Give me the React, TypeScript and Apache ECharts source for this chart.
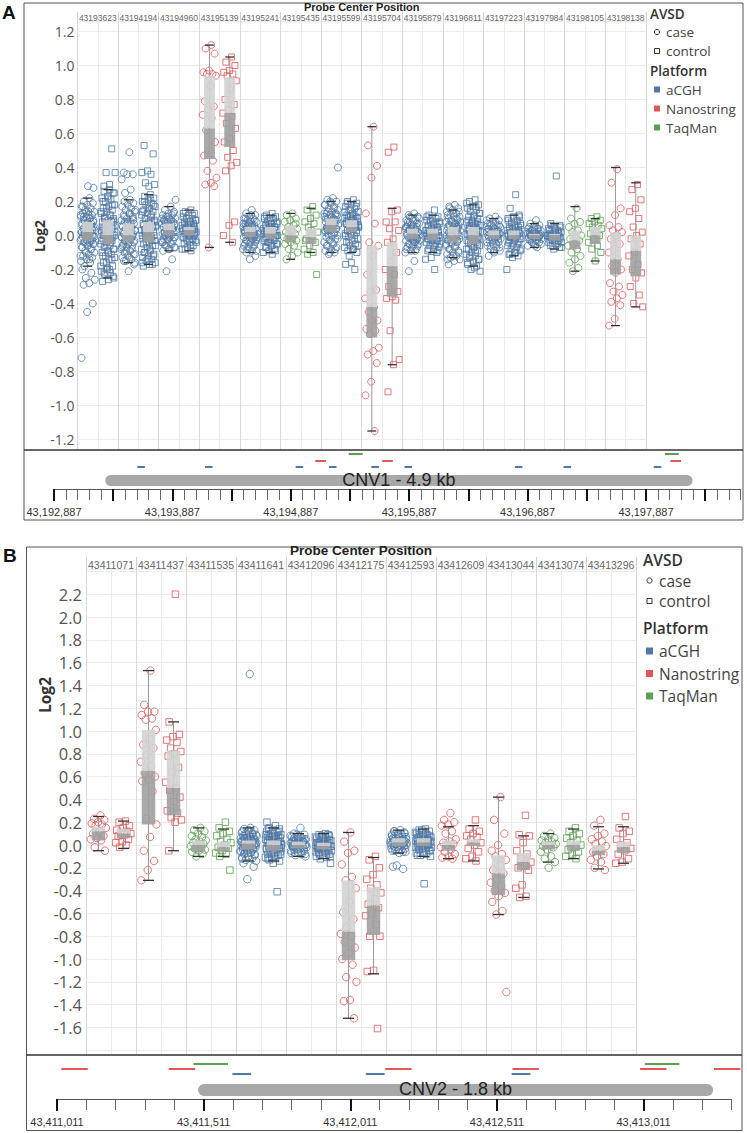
import React, { useEffect, useRef } from "react";
import * as echarts from "echarts";

// ---------------- shared ----------------
const PLATFORMS = ["aCGH", "Nanostring", "TaqMan"];
const PLATFORM_COLORS = ["#4E79A7", "#E15759", "#59A14F"];
const PROBE_LENGTH_BP = [64, 90, 118];
const GROUPS = ["case", "control"];

// ---------------- Panel A (CNV1) ----------------
const probesA = [43193623, 43194194, 43194960, 43195139, 43195241, 43195435, 43195599, 43195704, 43195879, 43196811, 43197223, 43197984, 43198105, 43198138];
const platformA = ["aCGH", "aCGH", "aCGH", "Nanostring", "aCGH", "TaqMan", "aCGH", "Nanostring", "aCGH", "aCGH", "aCGH", "aCGH", "TaqMan", "Nanostring"];
// Log2 x 100 : [lower whisker, q1, median, q3, upper whisker]
const boxCaseA = [
  [-18, -3, 2, 8, 22], [-16, -4, 0, 7, 21], [-9, 0, 3, 7, 17], [-7, 45, 63, 94, 112], [-10, -1, 2, 5, 13], [-14, -4, 0, 6, 13], [-10, 2, 6, 10, 20],
  [-115, -60, -42, -6, 64], [-10, -2, 1, 4, 12], [-13, -4, 0, 5, 15], [-10, -2, 0, 3, 10], [-7, -2, 0, 1, 7], [-21, -8, -3, 3, 17], [-53, -23, -14, 2, 40],
];
const boxControlA = [
  [-25, -5, 0, 9, 27], [-17, -4, 2, 8, 24], [-9, 0, 3, 5, 15], [-4, 52, 72, 93, 105], [-10, -2, 1, 5, 12], [-10, -5, -1, 4, 16], [-10, 2, 5, 9, 20],
  [-76, -36, -18, -4, 16], [-10, -3, 1, 4, 12], [-18, -5, 0, 5, 18], [-12, -2, 0, 3, 12], [-8, -3, 0, 1, 7], [-15, -5, 0, 5, 10], [-42, -24, -9, 0, 31],
];
// individual samples, Log2 x 100
const pointsCaseA = [
  [22, 20, 19, 18, 17, 16, 15, 14, 14, 13, 12, 11, 11, 10, 9, 9, 8, 7, 7, 6, 5, 5, 4, 3, 3, 2, 2, 1, 0, 0, -1, -2, -2, -3, -4, -4, -5, -6, -7, -8, -9, -10, -11, -12, -13, -14, -15, -16, -18, 28, 29, -20, -22, -25, -26, -28, -29, -40, -45, -72, 6, 1, -1, 12, 17, -3,
    14, 12, 10, 9, 8, 7, 6, 5, 4, 3, 2, 1, 0, -1, -2, -3, -4, -5, -6, -7, -8, -10, -12, -14, 11, 5, -3, 2],
  [21, 20, 19, 18, 17, 16, 15, 14, 13, 12, 11, 10, 9, 8, 8, 7, 6, 5, 5, 4, 3, 2, 1, 1, 0, -1, -2, -3, -3, -4, -5, -6, -7, -8, -9, -10, -11, -12, -13, -14, -15, -16, 49, 37, 36, 36, 33, 27, 25, -17, -21, 2, -1, 4,
    15, 13, 11, 9, 8, 6, 5, 4, 3, 2, 1, 0, 0, -1, -2, -3, -4, -5, -6, -8, -9, -11, -13, -15, 10, 7, -7, 2],
  [17, 15, 14, 13, 12, 12, 11, 10, 10, 9, 8, 8, 7, 7, 6, 6, 5, 5, 4, 4, 3, 3, 2, 2, 1, 1, 0, 0, -1, -1, -2, -3, -3, -4, -5, -6, -7, -8, -9, -14, -21, 21, 5, 2,
    13, 11, 10, 9, 8, 7, 6, 5, 4, 3, 2, 1, 0, -1, -2, -4, -5, -6, -7, -8, 9, 4, 1, -3],
  [112, 110, 107, 97, 96, 95, 95, 94, 88, 79, 76, 74, 71, 69, 62, 55, 50, 47, 44, 38, 34, 31, 30, 29, -7],
  [15, 13, 12, 11, 10, 10, 9, 8, 8, 7, 6, 6, 5, 5, 4, 4, 3, 3, 2, 2, 1, 1, 0, 0, -1, -1, -2, -3, -3, -4, -5, -6, -7, -8, -9, -10, -12, -14, 3, 1, 6, -2,
    12, 10, 9, 8, 7, 6, 5, 4, 3, 2, 1, 0, -1, -2, -3, -4, -5, -6, -7, -8, -9, 5, 2, -1],
  [13, 12, 10, 9, 8, 6, 5, 4, 3, 2, 1, 0, -1, -1, -2, -3, -4, -5, -6, -8, -10, -12, -14, 7, 3],
  [22, 21, 20, 19, 18, 17, 16, 15, 14, 13, 12, 12, 11, 10, 10, 9, 8, 8, 7, 6, 6, 5, 5, 4, 3, 3, 2, 1, 0, 0, -1, -2, -3, -4, -5, -6, -7, -8, -9, -10, -11, 40, 9, 4, 13,
    20, 18, 16, 14, 12, 11, 10, 9, 8, 7, 6, 5, 4, 3, 2, 1, 0, -2, -4, -6, -8, -10, 13, 7, 3],
  [64, 53, 41, 34, 13, 7, -4, -6, -12, -23, -32, -33, -37, -42, -45, -50, -50, -55, -56, -58, -66, -68, -70, -75, -86, -94, -115],
  [13, 12, 11, 10, 9, 9, 8, 7, 6, 6, 5, 4, 4, 3, 3, 2, 2, 1, 1, 0, 0, -1, -1, -2, -2, -3, -4, -5, -5, -6, -7, -8, -9, -10, -15, -21, 2, 0, 5, -3,
    11, 10, 9, 8, 7, 6, 5, 4, 3, 2, 1, 0, -1, -2, -3, -4, -5, -6, -7, -8, -9, 4, 1, -2],
  [18, 17, 16, 15, 14, 13, 12, 11, 11, 10, 9, 8, 8, 7, 6, 6, 5, 5, 4, 3, 3, 2, 2, 1, 0, 0, -1, -1, -2, -3, -3, -4, -5, -6, -7, -8, -9, -10, -11, -12, -13, -14, -15, -17, 4, 1, -2, 7,
    16, 14, 13, 12, 10, 9, 8, 7, 6, 5, 4, 3, 2, 1, 0, -1, -2, -3, -4, -5, -6, -8, -10, -12, -14, 5, 0],
  [11, 10, 9, 8, 7, 6, 6, 5, 4, 4, 3, 3, 2, 2, 1, 1, 0, 0, -1, -1, -2, -2, -3, -4, -5, -6, -7, -8, -9, -10, -12, 1, 0,
    9, 8, 7, 6, 5, 4, 3, 2, 1, 0, -1, -2, -3, -4, -5, -6, -7, -9, 2, 0, -1],
  [9, 7, 6, 5, 4, 4, 3, 3, 2, 2, 1, 1, 1, 0, 0, 0, -1, -1, -1, -2, -2, -3, -3, -4, -5, -6, -7, 0, 1,
    6, 5, 4, 3, 2, 1, 0, 0, -1, -2, -3, -4, -5, -6, 1, -1],
  [16, 10, 8, 7, 5, 3, 2, 0, -1, -2, -3, -5, -6, -8, -10, -12, -14, -16, -19, -21],
  [39, 31, 16, 12, 6, 5, 3, 2, 0, -2, -5, -8, -10, -14, -18, -20, -22, -28, -30, -33, -35, -37, -39, -41, -49, -53],
];
const pointsControlA = [
  [27, 26, 25, 23, 22, 21, 20, 18, 17, 16, 15, 14, 13, 12, 11, 10, 9, 8, 8, 7, 6, 5, 4, 4, 3, 2, 1, 0, 0, -1, -2, -3, -4, -5, -6, -7, -8, -9, -10, -11, -12, -13, -14, -16, -18, -20, -21, -22, -23, -25, -26, -27, 51, 37, 37, 30, 29, -24, -19, 3, -2, 10,
    25, 22, 20, 18, 16, 14, 12, 10, 8, 6, 5, 4, 3, 2, 1, 0, -1, -2, -3, -4, -6, -8, -10, -12, -14, -16, -18, -20, -22, 9, 1],
  [24, 23, 22, 21, 20, 19, 18, 17, 16, 15, 14, 13, 12, 11, 10, 9, 8, 7, 6, 5, 5, 4, 3, 2, 1, 0, -1, -2, -3, -4, -5, -6, -7, -8, -9, -10, -11, -12, -13, -14, -15, -16, -17, 53, 48, 38, 37, 36, 31, 30, 29, -18, -17, 1, 6,
    22, 20, 18, 16, 14, 12, 10, 8, 7, 6, 5, 4, 3, 2, 1, 0, -1, -2, -3, -4, -6, -8, -10, -12, -14, -16, 9, 2],
  [15, 14, 13, 12, 11, 10, 10, 9, 8, 8, 7, 6, 6, 5, 5, 4, 4, 3, 3, 2, 2, 1, 1, 0, 0, -1, -2, -2, -3, -4, -5, -6, -7, -8, -9, 4, 2, 1,
    13, 12, 10, 9, 8, 7, 6, 5, 4, 3, 2, 1, 0, -1, -2, -3, -4, -6, -8, 5, 3],
  [105, 102, 100, 97, 96, 95, 94, 91, 86, 80, 77, 74, 72, 70, 66, 63, 57, 55, 50, 46, 43, 41, 38, 8, 6, 0, -4],
  [13, 12, 11, 10, 10, 9, 8, 7, 7, 6, 5, 5, 4, 4, 3, 3, 2, 2, 1, 1, 0, 0, -1, -1, -2, -3, -3, -4, -5, -6, -7, -8, -9, -10, -11, 2, 0, 5,
    11, 10, 9, 8, 7, 6, 5, 4, 3, 2, 1, 0, -1, -2, -3, -4, -5, -6, -7, -9, 3, 1],
  [17, 15, 12, 10, 8, 7, 5, 2, 0, -2, -4, -6, -8, -10, -11, -23, 3, -3],
  [21, 20, 19, 18, 17, 16, 15, 14, 13, 12, 11, 11, 10, 9, 9, 8, 7, 7, 6, 5, 5, 4, 3, 3, 2, 1, 0, -1, -2, -3, -4, -5, -6, -7, -8, -9, -10, -16, -17, -20, -12, 6, 10,
    19, 17, 15, 14, 12, 11, 10, 9, 8, 7, 6, 5, 4, 3, 2, 1, 0, -2, -4, -6, -8, 7, 5],
  [52, 49, 15, 14, 8, 8, 4, 3, -2, -4, -10, -15, -20, -23, -30, -33, -36, -37, -38, -56, -73, -76, -92],
  [15, 12, 11, 10, 9, 8, 8, 7, 6, 5, 5, 4, 3, 3, 2, 2, 1, 1, 0, 0, -1, -1, -2, -3, -3, -4, -5, -6, -7, -8, -9, -10, -13, -14, -20, 1, 3, -2,
    11, 10, 9, 8, 7, 6, 5, 4, 3, 2, 1, 0, -1, -2, -3, -4, -5, -6, -8, -9, 2, 0],
  [21, 20, 18, 17, 16, 15, 14, 13, 12, 11, 10, 9, 8, 7, 6, 6, 5, 4, 3, 2, 2, 1, 0, -1, -2, -3, -4, -5, -6, -7, -8, -9, -10, -11, -12, -13, -14, -15, -16, -18, -20, -21, -19, 3, -1, 8,
    19, 17, 15, 13, 11, 9, 8, 7, 6, 5, 4, 3, 2, 1, 0, -1, -2, -3, -4, -5, -6, -8, -10, -12, -14, -16, -17, 4, 0],
  [24, 16, 12, 11, 10, 9, 8, 7, 6, 5, 5, 4, 3, 3, 2, 1, 1, 0, 0, -1, -2, -2, -3, -4, -5, -6, -7, -8, -9, -10, -11, -12, -13, -20, 2, -1,
    11, 10, 9, 8, 7, 6, 5, 4, 3, 2, 1, 0, -1, -2, -3, -4, -5, -6, -8, -10, -11, 2],
  [35, 7, 6, 5, 4, 3, 3, 2, 2, 1, 1, 0, 0, 0, -1, -1, -2, -2, -3, -3, -4, -5, -6, -7, -8, 0, -1,
    6, 5, 4, 3, 2, 1, 0, 0, -1, -2, -3, -4, -5, -6, -7, 1, -1],
  [11, 10, 9, 8, 7, 6, 5, 4, 2, 1, 0, -2, -4, -6, -8, -10, -15],
  [30, 27, 21, 16, 14, 10, 5, 2, 0, -2, -5, -10, -12, -17, -20, -22, -25, -30, -35, -40, -42],
];
const cnvA = { label: "CNV1 - 4.9 kb", start: 43193320, end: 43198280 };
const rulerA = { start: 43192887, end: 43198687, minorStep: 100, majorStep: 500, labelStep: 1000 };

// ---------------- Panel B (CNV2) ----------------
const probesB = [43411071, 43411437, 43411535, 43411641, 43412096, 43412175, 43412593, 43412609, 43413044, 43413074, 43413296];
const platformB = ["Nanostring", "Nanostring", "TaqMan", "aCGH", "aCGH", "Nanostring", "aCGH", "Nanostring", "Nanostring", "TaqMan", "Nanostring"];
const boxCaseB = [
  [-5, 4, 12, 16, 25], [-31, 18, 65, 101, 153], [-10, -6, 0, 4, 15], [-14, -4, 1, 4, 15], [-10, -3, 0, 3, 10], [-152, -101, -76, -31, 11],
  [-7, -1, 2, 6, 13], [-12, -5, 0, 4, 16], [-61, -44, -25, -9, 42], [-15, -4, 0, 3, 10], [-21, -9, -5, 0, 16],
];
const boxControlB = [
  [-3, 6, 10, 14, 21], [-5, 26, 50, 83, 108], [-10, -6, -2, 3, 14], [-14, -5, 0, 4, 15], [-12, -4, -1, 2, 10], [-113, -79, -53, -37, -11],
  [-10, -1, 2, 6, 14], [-14, -1, 2, 5, 17], [-46, -22, -15, -7, 8], [-12, -5, 0, 4, 14], [-16, -7, -2, 3, 16],
];
const pointsCaseB = [
  [26, 23, 22, 20, 19, 18, 17, 15, 12, 10, 8, 6, 5, 4, -2, -5],
  [153, 123, 117, 117, 114, 111, 110, 101, 93, 88, 85, 79, 73, 69, 63, 60, 57, 56, 47, 23, 18, 7, -5, -14, -22, -31],
  [15, 13, 12, 10, 8, 7, 5, 4, 3, 2, 1, 0, -1, -2, -3, -4, -5, -6, -8, -10],
  [15, 14, 13, 12, 11, 10, 10, 9, 8, 8, 7, 6, 6, 5, 5, 4, 4, 3, 3, 2, 2, 1, 1, 0, 0, -1, -1, -2, -2, -3, -4, -4, -5, -6, -7, -8, -9, -10, -11, -12, -13, -14, 150, -16, -19, -30, 3, -1, 6, 1,
    13, 12, 10, 9, 8, 7, 6, 5, 4, 3, 2, 1, 0, -1, -2, -3, -4, -5, -6, -7, -8, -10, -12, 4, 1],
  [15, 10, 9, 8, 7, 6, 5, 5, 4, 3, 3, 2, 2, 1, 1, 0, 0, -1, -1, -2, -2, -3, -4, -5, -6, -7, -8, -9, -10, 1, -1, 3,
    9, 8, 7, 6, 5, 4, 3, 2, 1, 0, -1, -2, -3, -4, -5, -6, -7, -8, 2, 0],
  [11, 3, -5, -7, -17, -28, -31, -38, -50, -59, -65, -72, -78, -80, -85, -90, -95, -100, -105, -116, -120, -136, -137, -152],
  [13, 12, 11, 10, 9, 9, 8, 7, 7, 6, 5, 5, 4, 4, 3, 3, 2, 2, 1, 1, 0, 0, -1, -1, -2, -3, -4, -5, -6, -7, -19, -21, -18, 2, 4,
    12, 10, 9, 8, 7, 6, 5, 4, 3, 2, 1, 0, -1, -2, -3, -4, -5, -6, 3, 2],
  [28, 22, 20, 18, 17, 12, 10, 5, 3, 2, 1, 0, -2, -4, -6, -8, -10, -11, -12],
  [42, 22, 10, 0, -5, -8, -10, -13, -18, -22, -25, -30, -33, -36, -40, -42, -45, -50, -58, -61, -129],
  [10, 8, 6, 5, 4, 3, 2, 1, 0, -1, -2, -4, -6, -10, -12, -15, -20],
  [22, 17, 10, 8, 5, 3, 1, -1, -4, -6, -8, -10, -13, -15, -20, -22],
];
const pointsControlB = [
  [21, 20, 17, 15, 13, 12, 11, 10, 9, 8, 5, 3, 2, 0, -2],
  [220, 108, 97, 95, 92, 90, 85, 82, 80, 78, 68, 64, 55, 50, 48, 42, 38, 30, 28, 24, 22, 20, -5],
  [20, 15, 12, 10, 8, 5, 3, 2, 0, -2, -3, -5, -7, -8, -10, -22],
  [17, 15, 14, 13, 12, 11, 10, 9, 8, 8, 7, 6, 5, 5, 4, 3, 3, 2, 1, 1, 0, 0, -1, -2, -2, -3, -4, -5, -6, -7, -8, -9, -10, -11, -12, -13, -14, -16, 20, -41, 2, -3, 7,
    14, 12, 10, 9, 8, 7, 6, 5, 4, 3, 2, 1, 0, -1, -2, -3, -4, -5, -6, -8, -10, -12, 3, 0],
  [10, 9, 8, 7, 6, 5, 4, 4, 3, 2, 2, 1, 0, 0, -1, -1, -2, -3, -3, -4, -5, -6, -7, -8, -9, -10, -11, -12, -16, 0, -2,
    9, 8, 7, 6, 5, 4, 3, 2, 1, 0, -1, -2, -3, -4, -5, -6, -7, -8, -10, 1, -1],
  [-10, -13, -20, -26, -30, -35, -38, -42, -47, -52, -55, -60, -62, -70, -80, -80, -110, -111, -161],
  [14, 13, 12, 11, 10, 9, 8, 7, 6, 6, 5, 4, 4, 3, 2, 2, 1, 0, 0, -1, -2, -3, -4, -5, -6, -7, -8, -9, -10, -34, 3, 1,
    13, 11, 10, 9, 8, 7, 6, 5, 4, 3, 2, 1, 0, -1, -2, -3, -4, -5, -7, -9, 4, 2],
  [22, 14, 12, 10, 8, 7, 5, 2, 0, -3, -6, -10, -12, -14],
  [26, 9, 8, 2, -5, -8, -12, -15, -18, -20, -22, -35, -38, -45, -46],
  [15, 12, 10, 8, 6, 4, 2, 0, -2, -4, -6, -8, -10, -12],
  [25, 15, 12, 10, 5, 2, 0, -3, -5, -8, -12, -15, -16],
];
const cnvB = { label: "CNV2 - 1.8 kb", start: 43411492, end: 43413248 };
const rulerB = { start: 43411011, end: 43413311, minorStep: 100, majorStep: 500, labelStep: 500 };

// ---------------- layout (pixels, not data) ----------------
const LAYOUT_A = {
  frame: { x: 24, y: 3, w: 719, h: 517 }, sep: 450,
  plot: { left: 77.5, width: 568.4, top: 21, height: 429 }, yRange: [-1.2618, 1.2618], labelRange: [-1.2, 1.2], splitNumber: 12,
  headerFont: 8.5, headerMargin: -1.5, headerTick: 9, yFont: 14, yMargin: 3,
  track: { left: 54, width: 686.7, top: 450, height: 39 }, levels: [17, 11, 4], bar: { top: 25, h: 11 }, barFont: 18,
  rulerFont: 11,
  title: { x: 361.7, y: 6.6, size: 11 }, log2: { x: 39, y: 236, size: 13.8 },
  letter: { text: "A", x: 2, y: 3 },
  legend: { x: 650, symX: 657, textX: 666, ys: [13.5, 32, 51, 70.5, 89.5, 108.5, 127.5], titleSize: 13.5, itemSize: 13.5, sq: 6 },
  symbol: [7, 6], jitter: 0.72,
};
const LAYOUT_B = {
  frame: { x: 26.5, y: 547, w: 715.5, h: 583.5 }, sep: 1055,
  plot: { left: 86, width: 550, top: 569, height: 486 }, yRange: [-1.8421, 2.4211], labelRange: [-1.6, 2.2], splitNumber: 20,
  headerFont: 10.5, headerMargin: -1, headerTick: 12, yFont: 16.5, yMargin: 4,
  track: { left: 57, width: 674.6, top: 1055, height: 44 }, levels: [19, 14, 9], bar: { top: 29, h: 12 }, barFont: 18,
  rulerFont: 11,
  title: { x: 361, y: 550.3, size: 13.5 }, log2: { x: 45, y: 695, size: 15.5 },
  letter: { text: "B", x: 3, y: 546 },
  legend: { x: 643, symX: 649.5, textX: 659, ys: [560, 580.5, 601, 628, 651, 673.5, 696], titleSize: 15.5, itemSize: 15.5, sq: 7 },
  symbol: [7.5, 6.5], jitter: 0.66,
};

const TXT = "'Open Sans', 'Noto Sans', sans-serif";
const ARIAL = "'Liberation Sans', Arial, sans-serif";

const jit = (i: number) => (((i + 1) * 0.6180339887) % 1) - 0.5;
const withCommas = (v: number) => String(Math.round(v)).replace(/\B(?=(\d{3})+(?!\d))/g, ",");

function buildPanel(d: any, L: any, gi: number, xi: number, yi: number) {
  const nSub = d.probes.length * 2;
  const grids = [
    { left: L.plot.left, top: L.plot.top, width: L.plot.width, height: L.plot.height },
    { left: L.track.left, top: L.track.top, width: L.track.width, height: L.track.height },
  ];
  const majors: number[] = [];
  for (let v = d.ruler.start; v <= d.ruler.end; v += d.ruler.majorStep) majors.push(v);
  const labels = majors.filter((v) => (v - d.ruler.start) % d.ruler.labelStep === 0);
  const xAxes = [
    {
      gridIndex: gi, type: "value", position: "bottom", min: 0, max: nSub, interval: 1,
      axisLine: { show: false }, axisTick: { show: false }, axisLabel: { show: false },
      splitLine: { show: true, lineStyle: { color: "#ebebeb", width: 1 } },
    },
    {
      gridIndex: gi, type: "category", position: "top", data: d.probes.map(String),
      axisLine: { show: false },
      axisTick: { show: true, length: L.headerTick, lineStyle: { color: "#d0d0d0" } },
      axisLabel: { interval: 0, fontSize: L.headerFont, lineHeight: L.headerFont, color: "#666", margin: L.headerMargin, fontFamily: ARIAL },
      splitLine: { show: true, lineStyle: { color: "#d9d9d9", width: 1 } },
    },
    {
      gridIndex: gi + 1, type: "value", position: "bottom", min: d.ruler.start, max: d.ruler.end, interval: d.ruler.minorStep,
      axisLine: { show: true, lineStyle: { color: "#555", width: 1 } },
      axisTick: { show: true, length: 11, lineStyle: { color: "#666", width: 1 } },
      axisLabel: { show: false }, splitLine: { show: false },
    },
    {
      gridIndex: gi + 1, type: "value", position: "bottom", offset: 0, min: d.ruler.start, max: d.ruler.end, interval: d.ruler.majorStep,
      axisLine: { show: false },
      axisTick: { show: true, length: 12, lineStyle: { color: "#111", width: 2 }, customValues: majors },
      axisLabel: {
        show: true, customValues: labels, fontSize: L.rulerFont, color: "#333", margin: 17, fontFamily: ARIAL,
        formatter: (v: number) => ((v - d.ruler.start) % d.ruler.labelStep === 0 ? withCommas(v) : ""),
      },
      splitLine: { show: false },
    },
  ];
  const yAxes = [
    {
      gridIndex: gi, type: "value", position: "left", min: L.yRange[0], max: L.yRange[1], splitNumber: L.splitNumber,
      axisLine: { show: false }, axisTick: { show: false },
      axisLabel: {
        fontSize: L.yFont, color: "#555", margin: L.yMargin, fontFamily: TXT, showMinLabel: false, showMaxLabel: false,
        formatter: (v: number) => {
          const r = Math.round(v * 5) / 5;
          if (Math.abs(r - v) > 1e-6) return "";
          if (r < L.labelRange[0] - 1e-6 || r > L.labelRange[1] + 1e-6) return "";
          return r.toFixed(1);
        },
      },
      splitLine: { show: true, lineStyle: { color: "#ececec", width: 1 } },
    },
    { gridIndex: gi + 1, type: "value", min: 0, max: 1, show: false },
  ];

  const series: any[] = [];
  // jittered points
  GROUPS.forEach((g, gIdx) => {
    PLATFORMS.forEach((p, pIdx) => {
      const data: number[][] = [];
      d.probes.forEach((_: number, j: number) => {
        if (d.platform[j] !== p) return;
        const pts = gIdx === 0 ? d.ptsCase[j] : d.ptsControl[j];
        pts.forEach((v: number, i: number) => data.push([2 * j + gIdx + 0.5 + jit(i) * L.jitter, v / 100]));
      });
      if (!data.length) return;
      series.push({
        type: "scatter", name: g + " " + p, xAxisIndex: xi, yAxisIndex: yi, data, z: 2,
        symbol: gIdx === 0 ? "circle" : "rect", symbolSize: L.symbol[gIdx],
        itemStyle: { color: "rgba(255,255,255,0)", borderColor: PLATFORM_COLORS[pIdx], borderWidth: 1 },
        silent: true,
      });
    });
  });
  // boxes
  const boxData: number[][] = [];
  d.probes.forEach((_: number, j: number) => {
    [d.boxCase[j], d.boxControl[j]].forEach((b: number[], gIdx: number) => {
      boxData.push([2 * j + gIdx + 0.5, b[0] / 100, b[1] / 100, b[2] / 100, b[3] / 100, b[4] / 100]);
    });
  });
  series.push({
    type: "custom", xAxisIndex: xi, yAxisIndex: yi, data: boxData, z: 3, silent: true,
    encode: { x: 0, y: [1, 2, 3, 4, 5] },
    renderItem: (params: any, api: any) => {
      const x = api.value(0);
      const lo = api.coord([x, api.value(1)]);
      const q1 = api.coord([x, api.value(2)]);
      const md = api.coord([x, api.value(3)]);
      const q3 = api.coord([x, api.value(4)]);
      const hi = api.coord([x, api.value(5)]);
      const sw = api.size([1, 0])[0];
      const bw = sw * 0.27, cw = sw * 0.22, cx = lo[0];
      return {
        type: "group",
        children: [
          { type: "line", shape: { x1: cx, y1: hi[1], x2: cx, y2: lo[1] }, style: { stroke: "#999", lineWidth: 1 } },
          { type: "rect", shape: { x: cx - bw, y: q3[1], width: 2 * bw, height: md[1] - q3[1] }, style: { fill: "#d3d3d3", opacity: 0.9 } },
          { type: "rect", shape: { x: cx - bw, y: md[1], width: 2 * bw, height: q1[1] - md[1] }, style: { fill: "#a0a0a0", opacity: 0.9 } },
          { type: "line", shape: { x1: cx - cw, y1: hi[1], x2: cx + cw, y2: hi[1] }, style: { stroke: "#333", lineWidth: 1.3 } },
          { type: "line", shape: { x1: cx - cw, y1: lo[1], x2: cx + cw, y2: lo[1] }, style: { stroke: "#333", lineWidth: 1.3 } },
        ],
      };
    },
  });
  // probe dashes on the track
  series.push({
    type: "custom", xAxisIndex: xi + 2, yAxisIndex: yi + 1, silent: true,
    data: d.probes.map((bp: number, j: number) => [bp, PLATFORMS.indexOf(d.platform[j])]),
    encode: { x: 0 },
    renderItem: (params: any, api: any) => {
      const bp = api.value(0), k = api.value(1);
      const half = PROBE_LENGTH_BP[k] / 2;
      const a = api.coord([bp - half, 0]);
      const b = api.coord([bp + half, 0]);
      const y = params.coordSys.y + L.levels[k];
      return { type: "line", shape: { x1: a[0], y1: y, x2: b[0], y2: y }, style: { stroke: PLATFORM_COLORS[k], lineWidth: 2 } };
    },
  });
  // CNV bar
  series.push({
    type: "custom", xAxisIndex: xi + 2, yAxisIndex: yi + 1, silent: true,
    data: [[d.cnv.start, d.cnv.end]], encode: { x: [0, 1] },
    renderItem: (params: any, api: any) => {
      const a = api.coord([api.value(0), 0]);
      const b = api.coord([api.value(1), 0]);
      const y = params.coordSys.y + L.bar.top, h = L.bar.h;
      return {
        type: "group",
        children: [
          { type: "rect", shape: { x: a[0], y, width: b[0] - a[0], height: h, r: h / 2 }, style: { fill: "#a8a8a8" } },
          {
            type: "text",
            style: { text: d.cnv.label, x: (a[0] + b[0]) / 2, y: y + h / 2 - 1, align: "center", verticalAlign: "middle", fontSize: L.barFont, fontFamily: ARIAL, fill: "#222" },
          },
        ],
      };
    },
  });

  // static decorations
  const lg = L.legend;
  const graphics: any[] = [
    { type: "rect", z: 50, silent: true, shape: { x: L.frame.x, y: L.frame.y, width: L.frame.w, height: L.frame.h }, style: { fill: "none", stroke: "#555", lineWidth: 1 } },
    { type: "line", z: 50, silent: true, shape: { x1: L.frame.x, y1: L.sep, x2: L.frame.x + L.frame.w, y2: L.sep }, style: { stroke: "#333", lineWidth: 1.6 } },
    { type: "text", z: 50, x: L.letter.x, y: L.letter.y, style: { text: L.letter.text, fontSize: 19, fontWeight: "bold", fontFamily: ARIAL, fill: "#111", align: "left", verticalAlign: "top" } },
    { type: "text", z: 50, x: L.title.x, y: L.title.y, style: { text: "Probe Center Position", fontSize: L.title.size, lineHeight: L.title.size, fontWeight: "bold", fontFamily: ARIAL, fill: "#222", align: "center", verticalAlign: "middle" } },
    { type: "text", z: 50, x: L.log2.x, y: L.log2.y, rotation: Math.PI / 2, style: { text: "Log2", fontSize: L.log2.size, fontWeight: "bold", fontFamily: TXT, fill: "#333", align: "center", verticalAlign: "middle" } },
    { type: "text", z: 50, x: lg.x, y: lg.ys[0], style: { text: "AVSD", fontSize: lg.titleSize, fontWeight: 600, fontFamily: TXT, fill: "#333", align: "left", verticalAlign: "middle" } },
    { type: "circle", z: 50, shape: { cx: lg.symX, cy: lg.ys[1], r: 2.6 }, style: { fill: "none", stroke: "#333", lineWidth: 1 } },
    { type: "text", z: 50, x: lg.textX, y: lg.ys[1], style: { text: GROUPS[0], fontSize: lg.itemSize, fontFamily: TXT, fill: "#444", align: "left", verticalAlign: "middle" } },
    { type: "rect", z: 50, shape: { x: lg.symX - 2.5, y: lg.ys[2] - 2.5, width: 5, height: 5 }, style: { fill: "none", stroke: "#333", lineWidth: 1 } },
    { type: "text", z: 50, x: lg.textX, y: lg.ys[2], style: { text: GROUPS[1], fontSize: lg.itemSize, fontFamily: TXT, fill: "#444", align: "left", verticalAlign: "middle" } },
    { type: "text", z: 50, x: lg.x, y: lg.ys[3], style: { text: "Platform", fontSize: lg.titleSize, fontWeight: 600, fontFamily: TXT, fill: "#333", align: "left", verticalAlign: "middle" } },
  ];
  PLATFORMS.forEach((p, k) => {
    const y = lg.ys[4 + k];
    graphics.push({ type: "rect", z: 50, shape: { x: lg.symX - lg.sq / 2, y: y - lg.sq / 2, width: lg.sq, height: lg.sq }, style: { fill: PLATFORM_COLORS[k] } });
    graphics.push({ type: "text", z: 50, x: lg.textX, y, style: { text: p, fontSize: lg.itemSize, fontFamily: TXT, fill: "#444", align: "left", verticalAlign: "middle" } });
  });
  return { grids, xAxes, yAxes, series, graphics };
}

export default function App() {
  const ref = useRef<HTMLDivElement>(null);
  useEffect(() => {
    if (!ref.current) return;
    const chart = echarts.init(ref.current, undefined, { renderer: "svg" });
    const a = buildPanel(
      { probes: probesA, platform: platformA, boxCase: boxCaseA, boxControl: boxControlA, ptsCase: pointsCaseA, ptsControl: pointsControlA, cnv: cnvA, ruler: rulerA },
      LAYOUT_A, 0, 0, 0
    );
    const b = buildPanel(
      { probes: probesB, platform: platformB, boxCase: boxCaseB, boxControl: boxControlB, ptsCase: pointsCaseB, ptsControl: pointsControlB, cnv: cnvB, ruler: rulerB },
      LAYOUT_B, 2, 4, 2
    );
    chart.setOption({
      animation: false,
      backgroundColor: "#ffffff",
      grid: [...a.grids, ...b.grids],
      xAxis: [...a.xAxes, ...b.xAxes],
      yAxis: [...a.yAxes, ...b.yAxes],
      series: [...a.series, ...b.series],
      graphic: [...a.graphics, ...b.graphics],
    });
    return () => chart.dispose();
  }, []);
  return <div ref={ref} style={{ position: "absolute", left: 0, top: 0, width: 747, height: 1133 }} />;
}
